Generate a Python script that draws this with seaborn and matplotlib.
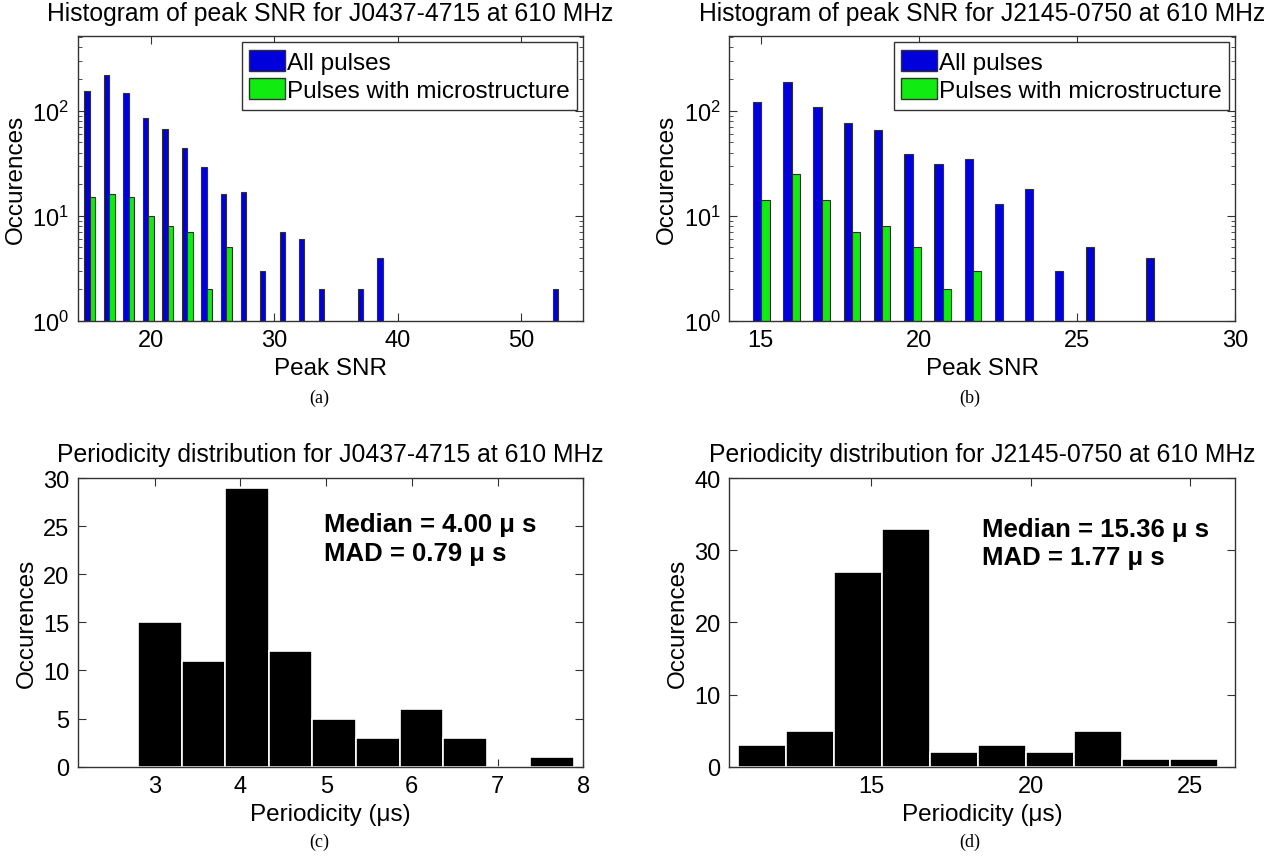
"""
Peak SNR and microstructure periodicity histograms for
J0437-4715 and J2145-0750 at 610 MHz (four panel figure).
"""

# --- Imports ---
import pandas as pd
import seaborn as sns
import matplotlib
matplotlib.use('Agg')
import matplotlib.pyplot as plt
from matplotlib.patches import Patch

# --- Data: peak SNR histograms (bin centres, counts per bin) ---
snr_centres_j0437 = [15.07, 16.65, 18.23, 19.81, 21.39, 22.97, 24.55, 26.13,
                     27.71, 29.29, 30.87, 32.45, 34.03, 35.61, 37.19, 38.77,
                     40.35, 41.93, 43.51, 45.09, 46.67, 48.25, 49.83, 51.41,
                     52.99]
all_pulses_j0437 = [153, 217, 149, 85, 67, 44, 29, 16, 17, 3, 7, 6, 2, 0, 2, 4,
                    0, 0, 0, 0, 0, 0, 0, 0, 2]
micro_pulses_j0437 = [15, 16, 15, 10, 8, 7, 2, 5, 0, 0, 0, 0, 0, 0, 0, 0,
                      0, 0, 0, 0, 0, 0, 0, 0, 0]

snr_centres_j2145 = [15.02, 15.98, 16.93, 17.89, 18.84, 19.80, 20.75, 21.71,
                     22.66, 23.62, 24.57, 25.53, 26.48, 27.44]
all_pulses_j2145 = [120, 186, 108, 77, 66, 39, 31, 35, 13, 18, 3, 5, 0, 4]
micro_pulses_j2145 = [14, 25, 14, 7, 8, 5, 2, 3, 0, 0, 0, 0, 0, 0]

# --- Data: periodicity histograms (bin centres, counts per bin) ---
period_centres_j0437 = [3.062, 3.570, 4.078, 4.586, 5.094, 5.602, 6.110,
                        6.618, 7.126, 7.634]
period_counts_j0437 = [15, 11, 29, 12, 5, 3, 6, 3, 0, 1]

period_centres_j2145 = [11.58, 13.08, 14.59, 16.09, 17.59, 19.10, 20.60,
                        22.10, 23.61, 25.11]
period_counts_j2145 = [3, 5, 27, 33, 2, 3, 2, 5, 1, 1]

series_names = ['All pulses', 'Pulses with microstructure']
stats_j0437 = ['Median = 4.00 μ s', 'MAD = 0.79 μ s']
stats_j2145 = ['Median = 15.36 μ s', 'MAD = 1.77 μ s']

# --- Style ---
BLUE = '#0000dc'
GREEN = '#10ec10'
EDGE = '#303030'
SPINE = '#333333'

sns.set_theme(style='white')
plt.rcParams['font.family'] = ['Liberation Sans', 'DejaVu Sans']
plt.rcParams['mathtext.fontset'] = 'custom'
plt.rcParams['mathtext.rm'] = 'Liberation Sans'
plt.rcParams['axes.edgecolor'] = SPINE
plt.rcParams['axes.linewidth'] = 1.0
# seaborn greys the text by default; the reference uses plain black
plt.rcParams['text.color'] = 'black'
plt.rcParams['axes.labelcolor'] = 'black'
plt.rcParams['axes.titlecolor'] = 'black'
plt.rcParams['xtick.color'] = 'black'
plt.rcParams['ytick.color'] = 'black'


def style_axes(ax):
    """MATLAB-like boxed axes with inward ticks on every side."""
    ax.tick_params(which='both', direction='in', top=True, right=True,
                   bottom=True, left=True, labelsize=17,
                   labelcolor='black', color=SPINE)
    ax.tick_params(which='major', length=6, width=0.8, pad=6)
    ax.tick_params(which='minor', length=3, width=0.6)
    for sp in ax.spines.values():
        sp.set_visible(True)
        sp.set_color(SPINE)


def snr_panel(ax, centres, all_counts, micro_counts, xlim, xticks, title):
    df = pd.DataFrame({
        'Peak SNR': list(centres) * 2,
        'count':    list(all_counts) + list(micro_counts),
        'series':   [series_names[0]] * len(centres)
                    + [series_names[1]] * len(centres),
    })
    df = df[df['count'] > 0]     # empty bins are not drawn on a log axis

    sns.barplot(data=df, x='Peak SNR', y='count', hue='series',
                hue_order=series_names, palette=[BLUE, GREEN],
                native_scale=True, width=0.55, saturation=1,
                errorbar=None, edgecolor=EDGE, linewidth=0.8,
                legend=False, ax=ax)
    ax.set_yscale('log')
    ax.set_ylim(1, 510)
    ax.set_xlim(*xlim)
    ax.set_xticks(xticks)
    ax.set_xlabel('Peak SNR', fontsize=17.5)
    ax.set_ylabel('Occurences', fontsize=17.5)
    ax.set_title(title, fontsize=17.8, pad=12)
    style_axes(ax)

    handles = [Patch(facecolor=BLUE, edgecolor=EDGE, label=series_names[0]),
               Patch(facecolor=GREEN, edgecolor=EDGE, label=series_names[1])]
    leg = ax.legend(handles=handles, loc='upper right', fancybox=False,
                    framealpha=1, edgecolor=SPINE, fontsize=17.5,
                    handlelength=1.45, handleheight=0.95, handletextpad=0.1,
                    borderpad=0.3, labelspacing=0.2, borderaxespad=0.25)
    leg.get_frame().set_linewidth(1.0)


def period_panel(ax, centres, counts, binrange, xlim, xticks, ylim, yticks,
                 stats, text_x, text_y, title):
    sns.histplot(x=centres, weights=counts, bins=len(centres),
                 binrange=binrange, color='black', edgecolor='white',
                 linewidth=1.2, alpha=1, ax=ax)
    ax.set_xlim(*xlim)
    ax.set_xticks(xticks)
    ax.set_ylim(*ylim)
    ax.set_yticks(yticks)
    ax.set_xlabel('Periodicity (μs)', fontsize=17.5)
    ax.set_ylabel('Occurences', fontsize=17.5)
    ax.set_title(title, fontsize=17.8, pad=12)
    for txt, yy in zip(stats, text_y):
        ax.text(text_x, yy, txt, fontsize=18.5, fontweight='bold',
                color='black', ha='left', va='center')
    style_axes(ax)


# --- Figure ---
fig = plt.figure(figsize=(12.71, 8.62), dpi=100)

ax_a = fig.add_axes([0.0611, 0.6265, 0.3978, 0.3302])
ax_b = fig.add_axes([0.5736, 0.6265, 0.3983, 0.3302])
ax_c = fig.add_axes([0.0611, 0.1094, 0.3978, 0.3349])
ax_d = fig.add_axes([0.5736, 0.1094, 0.3983, 0.3349])

snr_panel(ax_a, snr_centres_j0437, all_pulses_j0437, micro_pulses_j0437,
          xlim=(14.1, 55), xticks=[20, 30, 40, 50],
          title='Histogram of peak SNR for J0437-4715 at 610 MHz')
snr_panel(ax_b, snr_centres_j2145, all_pulses_j2145, micro_pulses_j2145,
          xlim=(14, 30), xticks=[15, 20, 25, 30],
          title='Histogram of peak SNR for J2145-0750 at 610 MHz')

period_panel(ax_c, period_centres_j0437, period_counts_j0437,
             binrange=(2.808, 7.888), xlim=(2.1, 8), xticks=[3, 4, 5, 6, 7, 8],
             ylim=(0, 30), yticks=[0, 5, 10, 15, 20, 25, 30],
             stats=stats_j0437, text_x=4.97, text_y=[25.2, 22.2],
             title='Periodicity distribution for J0437-4715 at 610 MHz')
period_panel(ax_d, period_centres_j2145, period_counts_j2145,
             binrange=(10.83, 25.86), xlim=(10.54, 26.41), xticks=[15, 20, 25],
             ylim=(0, 40), yticks=[0, 10, 20, 30, 40],
             stats=stats_j2145, text_x=18.46, text_y=[33.0, 29.0],
             title='Periodicity distribution for J2145-0750 at 610 MHz')

# sub-figure captions
for lab, (px, py) in zip(['(a)', '(b)', '(c)', '(d)'],
                         [(319, 398), (970, 398), (319, 842), (970, 842)]):
    fig.text(px / 1271, 1 - py / 862, lab, family='Liberation Serif',
             fontsize=13, color='black', ha='center', va='center')

fig.savefig('out.png', dpi=100)
